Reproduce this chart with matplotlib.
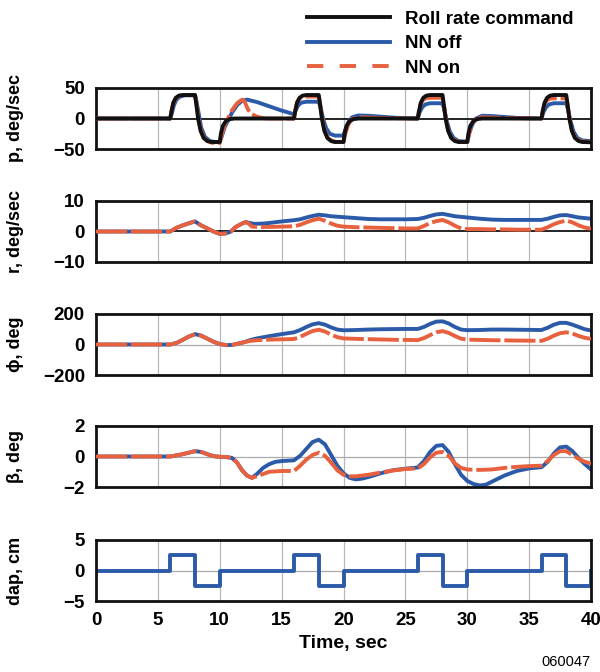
import matplotlib
matplotlib.use("Agg")
import matplotlib.pyplot as plt
from matplotlib.lines import Line2D

plt.rcParams["font.family"] = ["Liberation Sans", "DejaVu Sans"]
plt.rcParams["font.weight"] = "bold"

BLACK = "#111111"
BLUE = "#2b5ba8"
ORANGE = "#e8613e"

# roll rate p, deg/sec
p_cmd_t = [0, 6, 6.1, 6.25, 6.45, 6.7, 7.0, 8.0, 8.1, 8.25, 8.45, 8.7, 9.0, 9.3, 10.0,
           10.1, 10.25, 10.5, 10.8, 11.2, 16, 16.1, 16.25, 16.45, 16.7, 17.0, 18.0, 18.1,
           18.25, 18.45, 18.7, 19.0, 19.3, 20.0, 20.1, 20.25, 20.5, 20.8, 21.2, 26, 26.1,
           26.25, 26.45, 26.7, 27.0, 28.0, 28.1, 28.25, 28.45, 28.7, 29.0, 29.3, 30.0, 30.1,
           30.25, 30.5, 30.8, 31.2, 36, 36.1, 36.25, 36.45, 36.7, 37.0, 38.0, 38.1, 38.25,
           38.45, 38.7, 39.0, 39.3, 40.0]
p_cmd = [0, 0, 12, 26, 34, 37.5, 38.5, 38.5, 24, 0, -20, -32, -37, -38.5, -38.5,
         -24, -12, -4, -1, 0, 0, 12, 26, 34, 37.5, 38.5, 38.5, 24,
         0, -20, -32, -37, -38.5, -38.5, -24, -12, -4, -1, 0, 0, 12,
         26, 34, 37.5, 38.5, 38.5, 24, 0, -20, -32, -37, -38.5, -38.5, -24,
         -12, -4, -1, 0, 0, 12, 26, 34, 37.5, 38.5, 38.5, 24, 0,
         -20, -32, -37, -38.5, -39]

p_off_t = [0, 6, 6.15, 6.3, 6.5, 6.8, 7.2, 8.0, 8.1, 8.3, 8.5, 8.8, 9.2, 9.6, 10.0,
           10.15, 10.4, 10.7, 11.0, 11.4, 11.8, 12.2, 13.0, 14.0, 15.0, 16.0, 16.15,
           16.35, 16.6, 17.0, 18.0, 18.15, 18.35, 18.6, 18.9, 19.3, 20.0, 20.15, 20.4,
           20.7, 21.2, 22.0, 23.0, 24.0, 25.0, 26.0, 26.15, 26.35, 26.6, 27.0, 28.0,
           28.15, 28.35, 28.6, 28.9, 29.3, 30.0, 30.15, 30.4, 30.7, 31.2, 32.0, 33.0,
           34.0, 35.0, 36.0, 36.15, 36.35, 36.6, 37.0, 38.0, 38.15, 38.35, 38.6, 38.9,
           39.3, 40.0]
p_off = [0, 0, 10, 22, 31, 36, 38, 38, 30, 8, -15, -30, -37, -38.5, -38.5,
         -30, -14, -2, 10, 22, 29, 31, 27, 20, 13, 7, 14,
         22, 26, 27.5, 27.5, 18, 0, -16, -25, -28, -28, -18, -6,
         2, 5, 4.5, 3, 1.5, 0.5, 0, 10, 18, 23, 25, 25,
         14, -5, -22, -32, -37, -38, -25, -10, 0, 4.5, 4, 2.5,
         1, 0.3, 0, 10, 18, 23, 25, 25, 14, -5, -22, -32,
         -36, -37]

p_on_t = [0, 6, 6.1, 6.25, 6.45, 6.7, 7.0, 8.0, 8.1, 8.25, 8.45, 8.7, 9.0, 9.4, 10.0,
          10.15, 10.4, 10.7, 11.0, 11.4, 11.8, 12.0, 12.3, 12.6, 13.0, 13.5, 14.0, 16.0,
          16.1, 16.25, 16.45, 16.7, 17.0, 18.0, 18.1, 18.25, 18.45, 18.7, 19.0, 19.4,
          20.0, 20.15, 20.4, 20.7, 21.2, 22.0, 23.5, 26.0, 26.1, 26.25, 26.45, 26.7,
          27.0, 28.0, 28.1, 28.25, 28.45, 28.7, 29.0, 29.4, 30.0, 30.15, 30.4, 30.7,
          31.2, 32.0, 33.5, 36.0, 36.1, 36.25, 36.45, 36.7, 37.0, 38.0, 38.1, 38.25,
          38.45, 38.7, 39.0, 39.4, 40.0]
p_on = [0, 0, 12, 25, 33, 37, 38.5, 38.5, 28, 5, -18, -31, -37, -40, -40,
        -28, -10, 2, 14, 25, 31, 28, 14, 7, 3, 0.5, 0, 0,
        14, 27, 33, 35.5, 36, 36, 26, 5, -18, -31, -36, -38.5,
        -38.5, -25, -9, -1, 2, 1.5, 0.5, 0, 13, 25, 31, 33.5,
        34, 34, 24, 3, -19, -31, -36, -38.5, -38.5, -25, -9, -1,
        2, 1.5, 0.5, 0, 13, 24, 30, 32.5, 33, 33, 23, 3,
        -19, -31, -36, -38, -38.5]

# yaw rate r, deg/sec
r_on_t = [0, 6, 6.5, 7, 7.5, 8, 8.5, 9, 9.5, 10, 10.5, 10.9, 11.3, 11.8, 12.1, 12.4,
          12.6, 13, 14, 15, 16, 16.5, 17, 17.5, 18, 18.5, 19, 19.5, 20, 21, 22, 23, 24,
          25, 26, 26.5, 27, 27.5, 28, 28.5, 29, 29.5, 30, 31, 32, 33, 34, 35, 36, 36.5,
          37, 37.5, 38, 38.5, 39, 39.5, 40]
r_on = [0, 0, 1.2, 2.0, 2.7, 3.3, 2.0, 1.0, 0, -0.8, -0.6, 0, 1.5, 2.6, 3.1, 2.4,
        1.6, 1.5, 1.5, 1.6, 1.7, 2.2, 3.0, 3.7, 4.2, 3.5, 2.6, 1.9, 1.6, 1.4, 1.3, 1.2, 1.1,
        1.0, 1.0, 1.8, 2.8, 3.4, 3.8, 3.0, 1.9, 1.0, 0.8, 0.8, 0.7, 0.7, 0.6, 0.6, 0.6, 1.4,
        2.4, 3.1, 3.6, 3.0, 2.0, 1.3, 0.9]
r_off_t = [0, 6, 6.5, 7, 7.5, 8, 8.5, 9, 9.5, 10, 10.5, 10.9, 11.3, 11.8, 12.1, 12.4,
           12.8, 13.5, 14, 15, 16, 16.5, 17, 17.5, 18, 18.5, 19, 20, 21, 22, 23, 24, 25,
           26, 26.5, 27, 27.5, 28, 28.5, 29, 30, 31, 32, 33, 34, 35, 36, 36.5, 37, 37.5,
           38, 38.5, 39, 40]
r_off = [0, 0, 1.2, 2.0, 2.7, 3.3, 2.0, 1.0, 0, -0.8, -0.6, 0, 1.5, 2.6, 3.1, 2.8,
         2.5, 2.6, 2.8, 3.3, 3.7, 4.0, 4.6, 5.1, 5.5, 5.3, 5.0, 4.7, 4.4, 4.1, 4.0, 4.0, 4.0,
         4.1, 4.5, 5.1, 5.6, 5.8, 5.4, 5.0, 4.6, 4.2, 3.9, 3.8, 3.8, 3.8, 3.8, 4.2, 4.8, 5.3,
         5.4, 5.0, 4.6, 4.2]

# bank angle phi, deg
phi_on_t = [0, 6, 6.5, 7, 7.5, 8, 8.5, 9, 9.5, 10, 10.5, 11, 11.5, 12, 12.5, 13, 14, 15,
            16, 16.5, 17, 17.5, 18, 18.5, 19, 19.5, 20, 21, 22, 23, 24, 25, 26, 26.5, 27,
            27.5, 28, 28.5, 29, 29.5, 30, 31, 32, 33, 34, 35, 36, 36.5, 37, 37.5, 38, 38.5,
            39, 39.5, 40]
phi_on = [0, 0, 10, 30, 52, 68, 58, 38, 18, 3, -4, -3, 6, 16, 24, 28, 32, 34,
          36, 50, 70, 88, 97, 85, 65, 48, 40, 37, 35, 33, 31, 30, 29, 42, 62,
          80, 88, 76, 56, 38, 32, 30, 28, 27, 26, 25, 24, 38, 58, 74, 80, 72,
          56, 44, 37]
phi_off_t = [0, 6, 6.5, 7, 7.5, 8, 8.5, 9, 9.5, 10, 10.5, 11, 11.5, 12, 12.5, 13, 14, 15,
             16, 16.5, 17, 17.5, 18, 18.5, 19, 19.5, 20, 21, 22, 23, 24, 25, 26, 26.5, 27,
             27.5, 28, 28.5, 29, 29.5, 30, 31, 32, 33, 34, 35, 36, 36.5, 37, 37.5, 38, 38.5,
             39, 39.5, 40]
phi_off = [0, 0, 10, 30, 52, 68, 58, 38, 18, 3, -4, -3, 6, 16, 30, 40, 55, 68,
           80, 95, 115, 132, 140, 130, 112, 98, 93, 95, 98, 100, 101, 102, 102, 115, 135,
           150, 152, 138, 115, 98, 94, 95, 98, 98, 97, 96, 95, 110, 130, 142, 142, 130,
           115, 100, 92]

# sideslip beta, deg
beta_on_t = [0, 6, 7, 8, 8.5, 9, 9.5, 10, 10.5, 11, 11.4, 11.8, 12.2, 12.6, 13, 13.5, 14,
             15, 16, 16.5, 17, 17.5, 18, 18.5, 19, 19.5, 20, 20.5, 21, 22, 23, 24, 25, 26,
             26.5, 27, 27.5, 28, 28.5, 29, 29.5, 30, 31, 32, 33, 34, 35, 36, 36.5, 37, 37.5,
             38, 38.5, 39, 39.5, 40]
beta_on = [0, 0, 0.15, 0.35, 0.3, 0.15, 0.02, -0.02, -0.03, -0.1, -0.4, -0.9, -1.25, -1.4,
           -1.3, -1.15, -1.0, -0.95, -0.95, -0.6, -0.2, 0.1, 0.25, 0.05, -0.4, -0.9, -1.2,
           -1.3, -1.3, -1.2, -1.05, -0.92, -0.82, -0.78, -0.5, -0.05, 0.25, 0.3, 0.05, -0.45,
           -0.75, -0.85, -0.88, -0.85, -0.75, -0.68, -0.63, -0.6, -0.3, 0.1, 0.35, 0.35, 0.1,
           -0.15, -0.35, -0.45]
beta_off_t = [0, 6, 7, 8, 8.5, 9, 9.5, 10, 10.5, 11, 11.4, 11.8, 12.2, 12.6, 13, 13.5, 14,
              14.5, 15, 16, 16.5, 17, 17.5, 18, 18.5, 19, 19.5, 20, 20.5, 21, 21.5, 22, 23,
              24, 25, 26, 26.5, 27, 27.5, 28, 28.5, 29, 29.5, 30, 30.5, 31, 31.5, 32, 33, 34,
              35, 36, 36.5, 37, 37.5, 38, 38.5, 39, 39.5, 40]
beta_off = [0, 0, 0.15, 0.35, 0.3, 0.15, 0.02, -0.02, -0.03, -0.1, -0.4, -0.9, -1.25, -1.4,
            -1.15, -0.75, -0.5, -0.35, -0.3, -0.25, 0.05, 0.5, 0.95, 1.1, 0.8, 0.1, -0.6,
            -1.1, -1.4, -1.5, -1.45, -1.35, -1.1, -0.9, -0.8, -0.72, -0.3, 0.3, 0.7, 0.75,
            0.3, -0.5, -1.2, -1.6, -1.8, -1.9, -1.85, -1.65, -1.25, -0.95, -0.78, -0.7, -0.35,
            0.2, 0.6, 0.65, 0.35, -0.1, -0.5, -0.85]

# aileron command dap, cm
dap_t = [0, 6, 8, 10, 16, 18, 20, 26, 28, 30, 36, 38, 40]
dap = [0, 2.5, -2.5, 0, 2.5, -2.5, 0, 2.5, -2.5, 0, 2.5, -2.5, 0]

panels = [
    ("p, deg/sec", (-50, 50), [-50, 0, 50], BLACK),
    ("r, deg/sec", (-10, 10), [-10, 0, 10], BLACK),
    ("\u03d5, deg", (-200, 200), [-200, 0, 200], "#aaaaaa"),
    ("\u03b2, deg", (-2, 2), [-2, 0, 2], "#aaaaaa"),
    ("dap, cm", (-5, 5), [-5, 0, 5], "#aaaaaa"),
]
tops_px = [88, 201, 314, 426, 540]
H, W = 672, 600
left_px, right_px, h_px = 96, 591, 61

fig = plt.figure(figsize=(6, 6.72), dpi=100)
axes = []
for (label, ylim, yticks, zc), top in zip(panels, tops_px):
    ax = fig.add_axes([left_px / W, 1 - (top + h_px) / H, (right_px - left_px) / W, h_px / H])
    ax.set_xlim(0, 40)
    ax.set_ylim(*ylim)
    ax.set_xticks(range(0, 41, 5))
    ax.set_yticks(yticks)
    ax.set_yticklabels([str(v).replace("-", "\u2212") for v in yticks])
    for x in range(5, 40, 5):
        ax.axvline(x, color="#b8b8b8", lw=0.9, zorder=0)
    ax.axhline(0, color=zc, lw=0.9 if zc != BLACK else 1.3, zorder=0)
    ax.tick_params(length=0, labelsize=13.5, pad=8)
    for lab in ax.get_xticklabels() + ax.get_yticklabels():
        lab.set_fontweight("bold")
    for s in ax.spines.values():
        s.set_linewidth(2.0)
        s.set_color(BLACK)
    ax.set_ylabel(label, fontsize=13, fontweight="bold")
    ax.yaxis.set_label_coords((24 - left_px) / (right_px - left_px), 0.5)
    if label != "dap, cm":
        ax.set_xticklabels([])
    axes.append(ax)

dash = (8, 1.0)
lw = 2.8
ax_p, ax_r, ax_phi, ax_b, ax_d = axes
ax_p.plot(p_off_t, p_off, color=BLUE, lw=lw, zorder=2)
ax_p.plot(p_on_t, p_on, color=ORANGE, lw=lw, dashes=dash, zorder=3)
ax_p.plot(p_cmd_t, p_cmd, color=BLACK, lw=lw, zorder=4)
ax_r.plot(r_off_t, r_off, color=BLUE, lw=lw, zorder=2)
ax_r.plot(r_on_t, r_on, color=ORANGE, lw=lw, dashes=dash, zorder=3)
ax_phi.plot(phi_off_t, phi_off, color=BLUE, lw=lw, zorder=2)
ax_phi.plot(phi_on_t, phi_on, color=ORANGE, lw=lw, dashes=dash, zorder=3)
ax_b.plot(beta_off_t, beta_off, color=BLUE, lw=lw, zorder=2)
ax_b.plot(beta_on_t, beta_on, color=ORANGE, lw=lw, dashes=dash, zorder=3)
ax_d.plot(dap_t, dap, color=BLUE, lw=lw, drawstyle="steps-post", zorder=2)
ax_d.set_xlabel("Time, sec", fontsize=14, fontweight="bold", labelpad=4)

handles = [
    Line2D([], [], color=BLACK, lw=lw),
    Line2D([], [], color=BLUE, lw=lw),
    Line2D([], [], color=ORANGE, lw=lw, dashes=(4.2, 4.2)),
]
fig.legend(handles, ["Roll rate command", "NN off", "NN on"],
           loc="upper left", bbox_to_anchor=(298 / W, 1 - 1 / H), frameon=False,
           handlelength=4.4, handletextpad=0.8, labelspacing=0.4,
           borderpad=0, prop={"weight": "bold", "size": 13.5})

fig.text(591 / W, 1 - 662 / H, "060047", ha="right", va="center",
         fontsize=10.5, fontweight="normal")

fig.savefig("out.png", dpi=100)
